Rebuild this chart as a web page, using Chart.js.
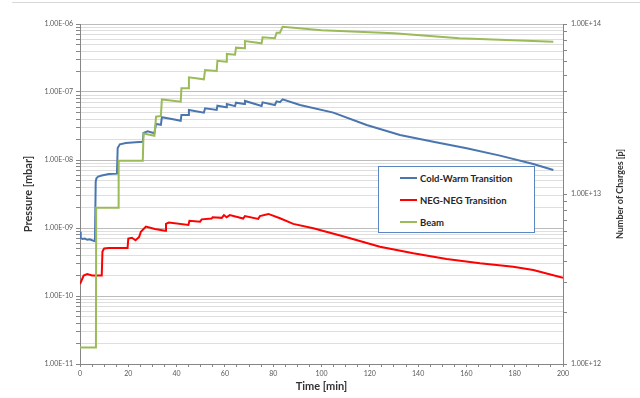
<!DOCTYPE html>
<html>
<head>
<meta charset="utf-8">
<script src="https://cdn.jsdelivr.net/npm/chart.js@4/dist/chart.umd.min.js"></script>
<style>
  body { margin: 0; background: #fff; }
  .wrap { position: relative; width: 640px; height: 398px; }
  .topline { position: absolute; top: 2px; left: 12px; right: 0; height: 1px; background: #d9d9d9; }
  #legend { position: absolute; left: 378px; top: 166px; width: 157px; height: 67px; box-sizing: border-box;
            border: 1.5px solid #5b86c2; background: #fff; font: bold 9.5px Lato, sans-serif; color: #262626; }
  #legend .item { display: flex; align-items: center; height: 22px; }
  #legend .swatch { width: 17px; height: 2px; margin-left: 21px; margin-right: 3px; }
</style>
</head>
<body>
<div class="wrap">
  <div class="topline"></div>
  <canvas id="myChart" width="640" height="398"></canvas>
  <div id="legend"></div>
</div>
<script>
// time axis [min]
const xTickLabels = [0, 20, 40, 60, 80, 100, 120, 140, 160, 180, 200];
const leftDecades = [-11, -10, -9, -8, -7, -6];
const rightDecades = [12, 13, 14];

// Cold-Warm Transition, pressure [mbar]
const cwTime = [0, 0.3, 1, 2, 3, 4, 5, 6.2, 6.5, 6.8, 7.5, 9, 12, 15.3,
  15.6, 16.5, 19, 23, 26.0, 26.3, 28, 30.8, 31.5, 33.5, 33.9, 38, 41.7, 42.0, 44.9, 45.1,
  51.3, 51.8, 56.6, 56.9, 60.5, 60.8, 64.2, 64.6, 68.0, 68.3, 75.2, 75.6, 80.7, 81.4, 82.8,
  83.9, 91.1, 104.9, 118.7, 132.5, 146.3, 160.1, 173.9, 187.7, 196];
const cwPressure = [8.8e-10, 7.2e-10, 6.9e-10, 7.0e-10, 6.7e-10, 6.8e-10, 6.6e-10, 6.4e-10, 4.8e-9, 5.4e-9, 5.7e-9, 5.9e-9, 6.2e-9, 6.3e-9,
  1.5e-8, 1.7e-8, 1.78e-8, 1.82e-8, 1.85e-8, 2.5e-8, 2.65e-8, 2.47e-8, 3.39e-8, 3.3e-8, 4.25e-8, 4.0e-8, 3.78e-8, 4.6e-8, 4.6e-8, 5.43e-8,
  4.96e-8, 5.75e-8, 5.45e-8, 6.3e-8, 5.95e-8, 6.67e-8, 6.2e-8, 6.96e-8, 6.67e-8, 7.38e-8, 6.22e-8, 7.05e-8, 6.44e-8, 7.3e-8, 7.1e-8,
  7.8e-8, 6.44e-8, 4.97e-8, 3.27e-8, 2.33e-8, 1.86e-8, 1.49e-8, 1.16e-8, 8.73e-9, 7.13e-9];

// NEG-NEG Transition, pressure [mbar]
const negTime = [0, 1.5, 3, 5, 9.0, 9.3, 10, 12, 19.7, 20.0, 21.5, 23, 24.5, 25.2, 27.3, 31, 35.2,
  35.6, 36.8, 44.9, 45.3, 49.7, 50.4, 54.5, 54.9, 58.7, 59.6, 60.7, 62, 67.6, 68.3, 73.8, 74.5, 78,
  82.8, 88.3, 96.6, 110.4, 124.2, 138, 151.8, 165.6, 179.4, 187.7, 200];
const negPressure = [1.5e-10, 2.0e-10, 2.1e-10, 2.0e-10, 2.0e-10, 4.5e-10, 5.0e-10, 5.1e-10, 5.1e-10, 7.0e-10, 7.2e-10, 6.6e-10, 7.4e-10, 8.8e-10, 1.05e-9, 9.7e-10, 9.1e-10,
  1.15e-9, 1.2e-9, 1.11e-9, 1.28e-9, 1.24e-9, 1.34e-9, 1.38e-9, 1.44e-9, 1.41e-9, 1.55e-9, 1.44e-9, 1.55e-9, 1.38e-9, 1.5e-9, 1.36e-9, 1.5e-9, 1.61e-9,
  1.39e-9, 1.15e-9, 9.9e-10, 7.3e-10, 5.3e-10, 4.25e-10, 3.5e-10, 3.02e-10, 2.7e-10, 2.41e-10, 1.86e-10];

// Beam, number of charges [p]
const beamTime = [0, 6.6, 6.7, 15.9, 16.0, 26.0, 26.3, 30.8, 31.5, 33.5, 33.9, 41.7, 42.0, 44.9, 45.1,
  51.3, 51.8, 56.6, 56.9, 60.5, 60.8, 64.2, 64.6, 68.0, 68.3, 75.2, 75.6, 80.7, 81.4, 82.8,
  83.9, 100, 130, 157, 196];
const beamCharges = [1.25e12, 1.25e12, 8.3e12, 8.3e12, 1.57e13, 1.57e13, 2.27e13, 2.2e13, 2.85e13, 2.88e13, 3.6e13, 3.49e13, 4.19e13, 4.19e13, 4.86e13,
  4.73e13, 5.36e13, 5.3e13, 6.08e13, 6.0e13, 6.67e13, 6.6e13, 7.26e13, 7.2e13, 7.94e13, 7.7e13, 8.35e13, 8.24e13, 8.89e13, 8.89e13,
  9.64e13, 9.2e13, 8.82e13, 8.24e13, 7.87e13];

function points(xs, ys) {
    return xs.map((x, i) => ({ x: x, y: ys[i] }));
}

function logTicks(decades) {
    let out = [];
    for (let d = 0; d < decades.length - 1; d++) {
        for (let m = 1; m < 10; m++) {
            out.push(Number((m * Math.pow(10, decades[d])).toPrecision(3)));
        }
    }
    out.push(Math.pow(10, decades[decades.length - 1]));
    return out;
}

function isPow10(v) {
    const e = Math.round(Math.log10(v));
    return Math.abs(v / Math.pow(10, e) - 1) < 1e-6;
}

function sci(v) {
    if (!isPow10(v)) return '';
    const e = Math.round(Math.log10(v));
    const a = Math.abs(e);
    return '1.00E' + (e < 0 ? '-' : '+') + (a < 10 ? '0' + a : a);
}

const tickFont = { family: 'Lato', size: 7 };
const titleFont = { family: 'Lato', size: 11, weight: 'bold' };
const axisGray = '#868686';

const rightTitle = {
    id: 'rightTitle',
    afterDraw(chart) {
        const c = chart.ctx;
        const area = chart.chartArea;
        c.save();
        c.translate(chart.scales.y1.right - 20, (area.top + area.bottom) / 2);
        c.rotate(-Math.PI / 2);
        c.font = 'bold 9px Lato';
        c.fillStyle = '#333';
        c.textAlign = 'center';
        c.textBaseline = 'middle';
        c.fillText('Number of Charges [p]', 0, 0);
        c.restore();
    }
};

const ctx = document.getElementById('myChart');
const chart = new Chart(ctx, {
    type: 'line',
    data: {
        datasets: [{
            label: 'Cold-Warm Transition',
            data: points(cwTime, cwPressure),
            borderColor: '#4a76b0',
            yAxisID: 'y',
            order: 2
        }, {
            label: 'NEG-NEG Transition',
            data: points(negTime, negPressure),
            borderColor: '#ff0000',
            yAxisID: 'y',
            order: 1
        }, {
            label: 'Beam',
            data: points(beamTime, beamCharges),
            borderColor: '#9bbb59',
            yAxisID: 'y1',
            order: 0
        }]
    },
    options: {
        responsive: false,
        animation: false,
        devicePixelRatio: 1,
        elements: {
            line: { borderWidth: 2, tension: 0 },
            point: { radius: 0 }
        },
        layout: { padding: { top: 24 } },
        plugins: {
            legend: { display: false },
            tooltip: { enabled: false }
        },
        scales: {
            x: {
                type: 'linear',
                min: 0,
                max: 200,
                afterFit: s => { s.height = 34; },
                ticks: {
                    stepSize: 5,
                    autoSkip: false,
                    maxRotation: 0,
                    padding: 3,
                    color: '#595959',
                    font: tickFont,
                    callback: v => xTickLabels.includes(v) ? String(v) : ''
                },
                grid: { drawOnChartArea: false, tickLength: 3, tickColor: axisGray },
                border: { color: axisGray },
                title: { display: true, text: 'Time [min]', color: '#333', font: titleFont, padding: { top: 0, bottom: 5 } }
            },
            y: {
                type: 'logarithmic',
                position: 'left',
                min: 1e-11,
                max: 1e-6,
                afterFit: s => { s.width = 80; },
                afterBuildTicks: s => { s.ticks = logTicks(leftDecades).map(v => ({ value: v })); },
                ticks: { autoSkip: false, padding: 3, color: '#595959', font: tickFont, callback: v => sci(v) },
                grid: {
                    color: c => (c.tick && isPow10(c.tick.value)) ? '#bcbcbc' : '#dedede',
                    tickColor: axisGray,
                    tickLength: 4
                },
                border: { color: axisGray },
                title: { display: true, text: 'Pressure [mbar]', color: '#333', font: titleFont, padding: { top: 22, bottom: 0 } }
            },
            y1: {
                type: 'logarithmic',
                position: 'right',
                min: 1e12,
                max: 1e14,
                afterFit: s => { s.width = 77; },
                afterBuildTicks: s => { s.ticks = logTicks(rightDecades).map(v => ({ value: v })); },
                ticks: { autoSkip: false, padding: 4, color: '#595959', font: tickFont, callback: v => sci(v) },
                grid: { drawOnChartArea: false, tickColor: axisGray, tickLength: 4 },
                border: { color: axisGray }
            }
        }
    },
    plugins: [rightTitle]
});

const legend = document.getElementById('legend');
chart.data.datasets.forEach(ds => {
    legend.innerHTML += `<div class="item"><span class="swatch" style="background:${ds.borderColor}"></span>${ds.label}</div>`;
});
</script>
</body>
</html>
